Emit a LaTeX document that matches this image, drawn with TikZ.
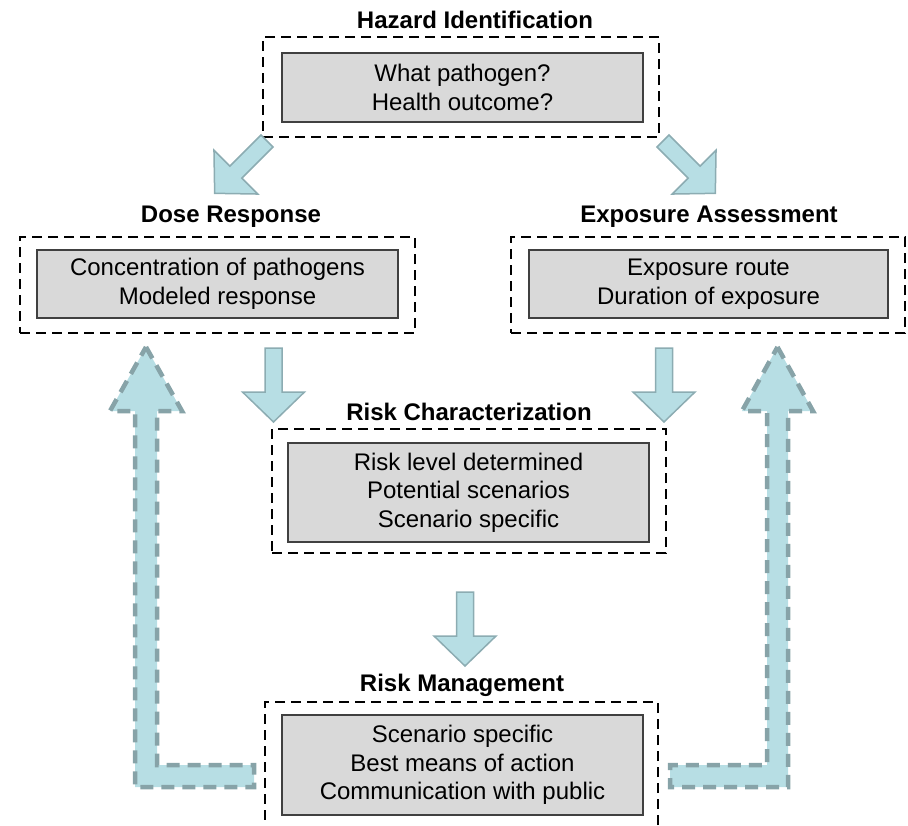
\documentclass[tikz,border=0pt]{standalone}
\usepackage{fontspec}
\setmainfont{Liberation Sans}
\usepackage{tikz}
\usetikzlibrary{positioning}
\definecolor{aqua}{RGB}{183, 222, 228}
\definecolor{aquaedge}{RGB}{140, 172, 178}
\definecolor{dashedge}{RGB}{135, 163, 168}
\definecolor{boxgray}{RGB}{217, 217, 217}
\tikzstyle{stage} = [rectangle, draw=black, dash pattern=on 10pt off 6pt, line width=1.8pt, inner sep=0pt]
\tikzstyle{content} = [rectangle, draw=black!75, fill=boxgray, line width=1.1pt, inner sep=0pt, align=center, font=\fontsize{24}{28.5}\selectfont]
\tikzstyle{heading} = [inner sep=0pt, font=\bfseries\fontsize{24}{28}\selectfont]
\tikzstyle{flow} = [fill=aqua, draw=aquaedge, line width=1.5pt, line join=miter]
\tikzstyle{feedback} = [fill=aqua, draw=dashedge, line width=4.5pt, dash pattern=on 13pt off 8pt]
\tikzset{pics/flowarrow/.style={code={
  \draw[flow] (-8.5,0) -- (-8.5,44) -- (-31,44) -- (0,74) -- (31,44) -- (8.5,44) -- (8.5,0) -- cycle;
}}}

\begin{document}
\begin{tikzpicture}[x=1pt, y=-1pt]
    \useasboundingbox (0,0) rectangle (908,825);
    \clip (0,0) rectangle (908,825);

    % Hazard identification
    \node[stage, minimum width=396, minimum height=100] (hazard) at (461,87) {};
    \node[content, minimum width=361, minimum height=69] (hazardtxt) at (462.5,87.5) {What pathogen?\\Health outcome?};
    \node[heading] (hazardttl) at (475,20) {Hazard Identification};

    % Dose response
    \node[stage, minimum width=395, minimum height=96] (dose) at (217.5,285) {};
    \node[content, minimum width=361, minimum height=68] (dosetxt) at (217.5,284) {Concentration of pathogens\\Modeled response};
    \node[heading] (dosettl) at (231,217) {Dose Response};

    % Exposure assessment
    \node[stage, minimum width=394, minimum height=96] (expo) at (708,285) {};
    \node[content, minimum width=359, minimum height=68] (expotxt) at (708.5,284) {Exposure route\\Duration of exposure};
    \node[heading] (expottl) at (709,217) {Exposure Assessment};

    % Risk characterization
    \node[stage, minimum width=394, minimum height=124] (charac) at (469,491) {};
    \node[content, minimum width=361, minimum height=99] (charactxt) at (468.5,492.5) {Risk level determined\\Potential scenarios\\Scenario specific};
    \node[heading] (characttl) at (469,412) {Risk Characterization};

    % Risk management
    \node[stage, minimum width=393, minimum height=130] (manage) at (461.5,767) {};
    \node[content, minimum width=361, minimum height=100] (managetxt) at (462.5,765) {Scenario specific\\Best means of action\\Communication with public};
    \node[heading] (managettl) at (462,685) {Risk Management};

    % Flow arrows
    \pic[rotate=-45] at (267,141) {flowarrow};
    \pic[rotate=45] at (663,141) {flowarrow};
    \pic at (273.5,348) {flowarrow};
    \pic at (664,348) {flowarrow};
    \pic at (465,592) {flowarrow};

    % Feedback arrows
    \draw[feedback] (146,347) -- (182,411) -- (157,411) -- (157,765) -- (254,765) -- (254,787)
        -- (135,787) -- (135,411) -- (110,411) -- cycle;
    \draw[feedback] (777.5,347) -- (813,411) -- (788,411) -- (788,787) -- (670,787) -- (670,765)
        -- (767,765) -- (767,411) -- (742,411) -- cycle;
\end{tikzpicture}
\end{document}
